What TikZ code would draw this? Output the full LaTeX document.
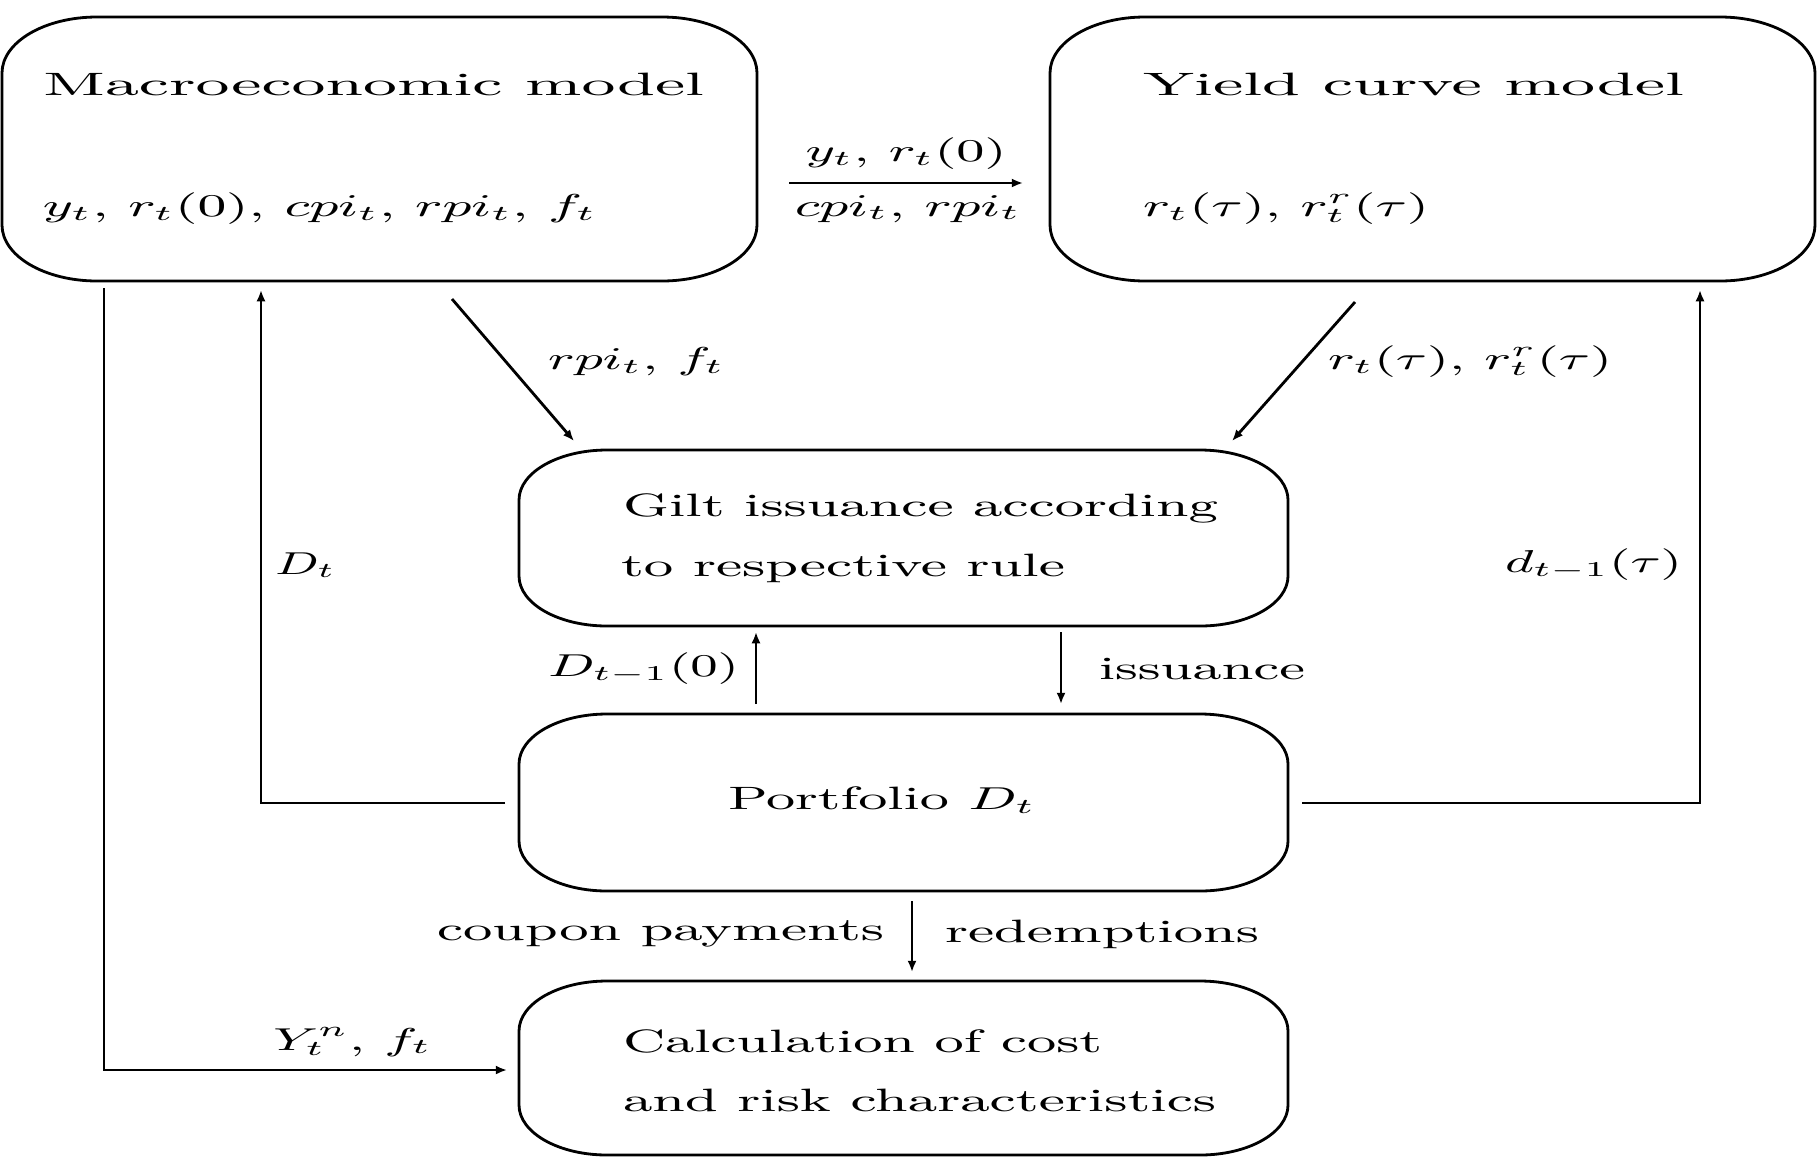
\documentclass[tikz,border=0pt]{standalone}
\usepackage{graphicx}
\usetikzlibrary{arrows.meta}
\newlength\pxl
\setlength\pxl{0.01cm}
\newcommand\tw[2]{\resizebox{#1\pxl}{\height}{#2}}
\newcommand\ebox[3]{%
  \draw[boxline] ([xshift=#2\pxl]#1.north west) -- ([xshift=-#2\pxl]#1.north east)
    arc[start angle=90,end angle=0,x radius=#2\pxl,y radius=#3\pxl]
    -- ([yshift=#3\pxl]#1.south east)
    arc[start angle=0,end angle=-90,x radius=#2\pxl,y radius=#3\pxl]
    -- ([xshift=#2\pxl]#1.south west)
    arc[start angle=270,end angle=180,x radius=#2\pxl,y radius=#3\pxl]
    -- ([yshift=-#3\pxl]#1.north west)
    arc[start angle=180,end angle=90,x radius=#2\pxl,y radius=#3\pxl] -- cycle;}
\begin{document}
\begin{tikzpicture}[x=0.01cm,y=-0.01cm,
  boxarea/.style={inner sep=0pt,outer sep=0pt,draw=none},
  boxline/.style={line width=0.8pt},
  txt/.style={inner sep=0pt,outer sep=0pt,anchor=west,font=\fontsize{9.2}{11}\selectfont},
  ctxt/.style={inner sep=0pt,outer sep=0pt,anchor=center,font=\fontsize{9.2}{11}\selectfont},
  conn/.style={line width=0.8pt},
  arr/.style={line width=0.8pt,-{Latex[length=3.2pt,width=2.6pt]}}]
\useasboundingbox (0,0) rectangle (1819,1157);
% boxes
\node[boxarea,minimum width=755\pxl,minimum height=264\pxl] (macro) at (379.5,149) {};
\node[boxarea,minimum width=765\pxl,minimum height=264\pxl] (yield) at (1432.5,149) {};
\node[boxarea,minimum width=769\pxl,minimum height=176\pxl] (gilt) at (903.5,538) {};
\node[boxarea,minimum width=769\pxl,minimum height=177\pxl] (port) at (903.5,802.5) {};
\node[boxarea,minimum width=769\pxl,minimum height=174\pxl] (calc) at (903.5,1068) {};
\ebox{macro}{95}{56}
\ebox{yield}{95}{56}
\ebox{gilt}{88}{50}
\ebox{port}{88}{50}
\ebox{calc}{88}{50}
% texts in boxes
\node[txt] (macroT) at (43,84) {\tw{661}{Macroeconomic model}};
\node[txt] (macroV) at (43,209) {\tw{554}{$y_t$, $r_t(0)$, $cpi_t$, $rpi_t$, $f_t$}};
\node[txt] (yieldT) at (1143,84) {\tw{541}{Yield curve model}};
\node[txt] (yieldV) at (1143,209) {\tw{286}{$r_t(\tau)$, $r_t^r(\tau)$}};
\node[txt] (giltA) at (623,508) {\tw{595}{Gilt issuance according}};
\node[txt] (giltB) at (621,568) {\tw{444}{to respective rule}};
\node[txt] (portT) at (728,800) {\tw{308}{Portfolio $D_t$}};
\node[txt] (calcA) at (623,1041) {\tw{479}{Calculation of cost}};
\node[txt] (calcB) at (623,1100) {\tw{593}{and risk characteristics}};
% connector end points
\coordinate (mA) at (789,183);
\coordinate (yA) at (1023,183);
\coordinate (mD) at (452,299);
\coordinate (gD) at (574,441);
\coordinate (yD) at (1355,302);
\coordinate (gE) at (1232,441);
\coordinate (lS) at (104,288);
\coordinate (lC) at (104,1070);
\coordinate (lE) at (507,1070);
\coordinate (dS) at (505,803);
\coordinate (dC) at (261,803);
\coordinate (dE) at (261,290);
\coordinate (rS) at (1302,803);
\coordinate (rC) at (1700,803);
\coordinate (rE) at (1700,290);
\coordinate (uS) at (756,704);
\coordinate (uE) at (756,632);
\coordinate (iS) at (1061,632);
\coordinate (iE) at (1061,704);
\coordinate (cS) at (912,901);
\coordinate (cE) at (912,972);
% connectors
\draw[arr] (mA) -- (yA);
\draw[arr] (mD) -- (gD);
\draw[arr] (yD) -- (gE);
\draw[arr] (lS) -- (lC) -- (lE);
\draw[arr] (dS) -- (dC) -- (dE);
\draw[arr] (rS) -- (rC) -- (rE);
\draw[arr] (uS) -- (uE);
\draw[arr] (iS) -- (iE);
\draw[arr] (cS) -- (cE);
% connector labels
\node[ctxt] (lab1) at (906,154) {\tw{201}{$y_t$, $r_t(0)$}};
\node[ctxt] (lab2) at (908,209) {\tw{226}{$cpi_t$, $rpi_t$}};
\node[txt] (lab3) at (548,362) {\tw{177}{$rpi_t$, $f_t$}};
\node[txt] (lab4) at (1328,362) {\tw{284}{$r_t(\tau)$, $r_t^r(\tau)$}};
\node[txt] (lab5) at (275,565) {\tw{61}{$D_t$}};
\node[txt] (lab6) at (1505,565) {\tw{177}{$d_{t-1}(\tau)$}};
\node[txt] (lab7) at (548,669) {\tw{191}{$D_{t-1}(0)$}};
\node[txt] (lab8) at (1099,669) {\tw{206}{issuance}};
\node[txt] (lab9) at (437,934) {\tw{447}{coupon payments}};
\node[txt] (lab10) at (945,934) {\tw{314}{redemptions}};
\node[txt] (lab11) at (273,1042) {\tw{159}{$Y_t^n$, $f_t$}};
\end{tikzpicture}
\end{document}
